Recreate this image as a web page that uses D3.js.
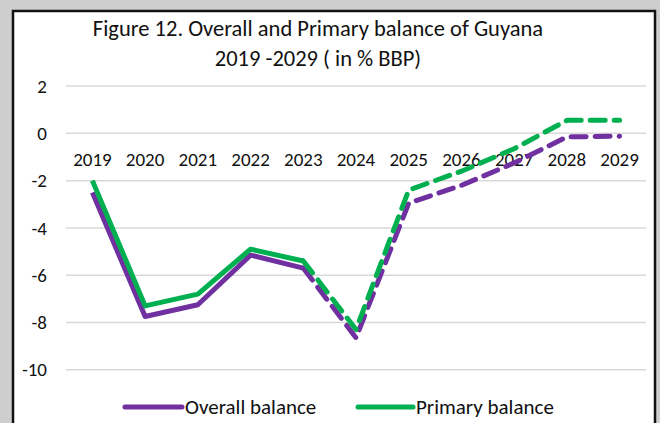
<!DOCTYPE html>
<html>
<head>
<meta charset="utf-8">
<script src="https://cdn.jsdelivr.net/npm/d3@7"></script>
<style>
  body { margin: 0; background: #cecece; }
  svg { display: block; }
</style>
</head>
<body>
<div id="chart"></div>
<script>
// years on the x axis
var years = ["2019", "2020", "2021", "2022", "2023", "2024", "2025", "2026", "2027", "2028", "2029"];
// overall balance, % of GDP
var overall = [-2.5, -7.75, -7.25, -5.15, -5.7, -8.65, -2.95, -2.2, -1.25, -0.15, -0.12];
// primary balance, % of GDP
var primary = [-2.0, -7.3, -6.8, -4.9, -5.4, -8.3, -2.4, -1.6, -0.65, 0.55, 0.55];
var yTicks = [2, 0, -2, -4, -6, -8, -10];
// last year of actual data, after which lines are dashed
var lastActual = "2023";

var W = 660, H = 423;
var font = "Calibri, Carlito, Lato, sans-serif";

var svg = d3.select("#chart").append("svg")
	.attr("width", W)
	.attr("height", H);

svg.append("rect")
	.attr("width", W).attr("height", H)
	.attr("fill", "#cecece");

// white chart box with dark border
svg.append("rect")
	.attr("x", 13).attr("y", 11)
	.attr("width", 642).attr("height", H + 20)
	.attr("fill", "#fff")
	.attr("stroke", "#111")
	.attr("stroke-width", 2.5);

// title
var title = svg.append("text")
	.attr("text-anchor", "middle")
	.attr("font-family", font)
	.attr("font-size", "22.5px")
	.attr("fill", "#111");
title.append("tspan").attr("x", 318).attr("y", 36).text("Figure 12. Overall and Primary balance of Guyana");
title.append("tspan").attr("x", 318).attr("y", 66).text("2019 -2029 ( in % BBP)");

var x = d3.scalePoint().domain(years).range([92.4, 619.6]);
var y = d3.scaleLinear().domain([-10, 2]).range([369.7, 86.1]);

// gridlines
svg.append("g").selectAll("line")
	.data(yTicks)
	.join("line")
	.attr("x1", 66).attr("x2", 646)
	.attr("y1", function(d){ return y(d); })
	.attr("y2", function(d){ return y(d); })
	.attr("stroke", "#d9d9d9")
	.attr("stroke-width", 1.5);

// y labels
svg.append("g").selectAll("text")
	.data(yTicks)
	.join("text")
	.attr("x", 47)
	.attr("y", function(d){ return y(d); })
	.attr("dy", "0.35em")
	.attr("text-anchor", "end")
	.attr("font-family", font)
	.attr("font-size", "19px")
	.attr("fill", "#111")
	.text(function(d){ return d; });

// x labels sit just under the zero line
svg.append("g").selectAll("text")
	.data(years)
	.join("text")
	.attr("x", function(d){ return x(d); })
	.attr("y", y(0) + 33)
	.attr("text-anchor", "middle")
	.attr("font-family", font)
	.attr("font-size", "19px")
	.attr("fill", "#111")
	.text(function(d){ return d; });

var line = d3.line()
	.x(function(d){ return x(d.year); })
	.y(function(d){ return y(d.value); });

var cut = years.indexOf(lastActual);

function drawSeries(values, color){
	var pts = years.map(function(yr, i){ return {year: yr, value: values[i]}; });
	// actual part, solid
	svg.append("path")
		.datum(pts.slice(0, cut + 1))
		.attr("d", line)
		.attr("fill", "none")
		.attr("stroke", color)
		.attr("stroke-width", 5)
		.attr("stroke-linejoin", "round");
	// projection, dashed
	svg.append("path")
		.datum(pts.slice(cut))
		.attr("d", line)
		.attr("fill", "none")
		.attr("stroke", color)
		.attr("stroke-width", 5)
		.attr("stroke-linecap", "round")
		.attr("stroke-linejoin", "round")
		.attr("stroke-dasharray", "15,9");
}

drawSeries(overall, "#7030a0");
drawSeries(primary, "#00b050");

// legend
var legend = [
	{name: "Overall balance", color: "#7030a0", x1: 125, x2: 182},
	{name: "Primary balance", color: "#00b050", x1: 358, x2: 413}
];
var lg = svg.append("g").selectAll("g")
	.data(legend)
	.join("g");
lg.append("line")
	.attr("x1", function(d){ return d.x1; })
	.attr("x2", function(d){ return d.x2; })
	.attr("y1", 407).attr("y2", 407)
	.attr("stroke", function(d){ return d.color; })
	.attr("stroke-width", 5)
	.attr("stroke-linecap", "round");
lg.append("text")
	.attr("x", function(d){ return d.x2 + 3; })
	.attr("y", 407)
	.attr("dy", "0.35em")
	.attr("font-family", font)
	.attr("font-size", "21px")
	.attr("fill", "#111")
	.text(function(d){ return d.name; });
</script>
</body>
</html>
